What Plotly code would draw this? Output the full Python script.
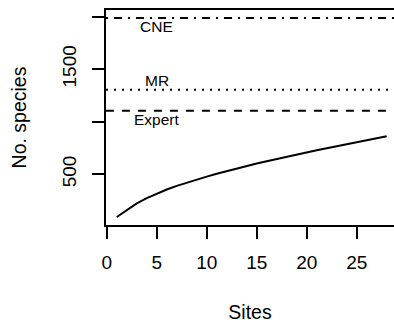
import plotly.graph_objects as go

# Species accumulation over sampled sites
sites = list(range(1, 29))
species = [94, 163, 224, 274, 318, 356, 390, 421, 450, 478, 505, 531, 556, 580,
           603, 625, 647, 668, 689, 709, 729, 749, 768, 787, 806, 825, 844, 862]

# Reference richness estimates drawn as horizontal lines
ref_names = ["CNE", "MR", "Expert"]
ref_values = [1987, 1304, 1105]
ref_dash = ["2px,6px,8px,6px", "2px,6px", "8px,8px"]
ref_label_side = ["below", "above", "below"]
label_site = 5

x_ticks = [0, 5, 10, 15, 20, 25]
y_ticks = [500, 1000, 1500, 2000]
y_tick_text = ["500", "", "1500", ""]

FONT = "Liberation Sans, Arial, sans-serif"

# R-style 4% axis padding
all_y = species + ref_values
ypad = 0.04 * (max(all_y) - min(all_y))
y_range = [min(all_y) - ypad, max(all_y) + ypad]
xpad = 0.04 * (max(sites) - min(sites))
x_lo = min(sites) - xpad
x_hi_visible = 28.73

fig = go.Figure()
fig.add_trace(go.Scatter(x=sites, y=species, mode="lines",
                         line=dict(color="black", width=2), showlegend=False))

for name, val, dash, side in zip(ref_names, ref_values, ref_dash, ref_label_side):
    fig.add_trace(go.Scatter(x=[x_lo, x_lo + 40], y=[val, val], mode="lines",
                             line=dict(color="black", width=2, dash=dash),
                             showlegend=False, cliponaxis=True))
    fig.add_annotation(x=label_site, y=val, text=name, showarrow=False,
                       yanchor="top" if side == "below" else "bottom",
                       yshift=2 if side == "below" else -1,
                       font=dict(family=FONT, size=15.5, color="black"))

axis_common = dict(
    showgrid=False, zeroline=False, showline=True, linecolor="black", linewidth=2,
    ticks="outside", ticklen=12, tickwidth=2, tickcolor="black",
    tickfont=dict(family=FONT, size=19, color="black"),
    automargin=False,
)

fig.update_layout(
    width=394, height=323,
    margin=dict(l=106, r=0, t=10, b=98),
    paper_bgcolor="white", plot_bgcolor="white",
    xaxis=dict(range=[x_lo, x_hi_visible], tickvals=x_ticks, mirror=True,
               ticklabelstandoff=7,
               title=dict(text="Sites", font=dict(family=FONT, size=19.5, color="black"),
                          standoff=37),
               **axis_common),
    yaxis=dict(range=y_range, tickvals=y_ticks, ticktext=y_tick_text, tickangle=-90,
               ticklabelstandoff=8,
               title=dict(text="No. species", font=dict(family=FONT, size=19.5, color="black"),
                          standoff=28),
               **axis_common),
)

fig.write_html("out.html")
